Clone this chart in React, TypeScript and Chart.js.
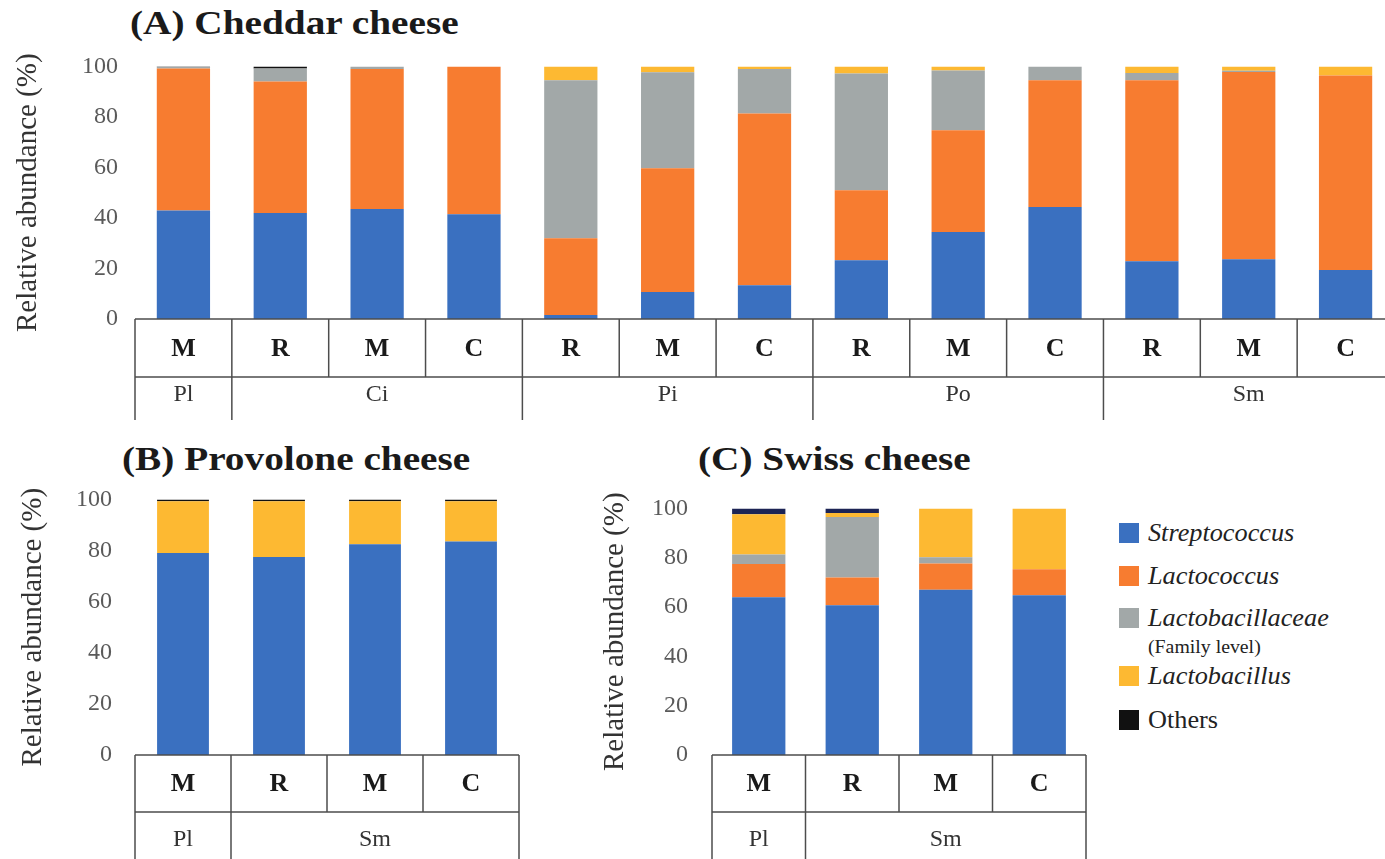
import React, { useEffect, useRef } from "react";
import { Chart, registerables } from "chart.js";
Chart.register(...registerables);

// ---------- data ----------
const seriesNames = ["Streptococcus", "Lactococcus", "Lactobacillaceae", "Lactobacillus", "Others"];
const baseColors = ["#3a70c0", "#f77c30", "#a2a8a8", "#fdb932", "#111111"];
const swissColors = ["#3a70c0", "#f77c30", "#a2a8a8", "#fdb932", "#1c2455"];
const yTicks = [0, 20, 40, 60, 80, 100];
const yTitle = "Relative abundance (%)";

// (A) Cheddar
const cheddarCategories = ["M", "R", "M", "C", "R", "M", "C", "R", "M", "C", "R", "M", "C"];
const cheddarGroups = ["Pl", "Ci", "Pi", "Po", "Sm"];
const cheddarGroupSpans = [1, 3, 3, 3, 3];
const cheddarStreptococcus = [43, 42, 43.5, 41.5, 1.6, 10.7, 13.4, 23.3, 34.4, 44.3, 22.9, 23.7, 19.4];
const cheddarLactococcus = [56.2, 52, 55.5, 58.5, 30.4, 49, 68, 27.7, 40.3, 50.2, 71.6, 74.1, 77];
const cheddarLactobacillaceae = [0.6, 5.2, 1, 0, 62.5, 38, 17.6, 46.2, 23.7, 5.5, 2.9, 0.5, 0];
const cheddarLactobacillus = [0, 0, 0, 0, 5.5, 2.3, 1, 2.8, 1.6, 0, 2.6, 1.7, 3.6];
const cheddarOthers = [0.2, 0.8, 0, 0, 0, 0, 0, 0, 0, 0, 0, 0, 0];

// (B) Provolone
const provoloneCategories = ["M", "R", "M", "C"];
const provoloneGroups = ["Pl", "Sm"];
const provoloneGroupSpans = [1, 3];
const provoloneStreptococcus = [79, 77.5, 82.5, 83.5];
const provoloneLactococcus = [0, 0, 0, 0];
const provoloneLactobacillaceae = [0, 0, 0, 0];
const provoloneLactobacillus = [20.3, 21.8, 16.8, 15.8];
const provoloneOthers = [0.7, 0.7, 0.7, 0.7];

// (C) Swiss
const swissCategories = ["M", "R", "M", "C"];
const swissGroups = ["Pl", "Sm"];
const swissGroupSpans = [1, 3];
const swissStreptococcus = [64, 60.7, 67, 64.8];
const swissLactococcus = [13.5, 11.3, 10.7, 10.5];
const swissLactobacillaceae = [3.8, 24.5, 2.5, 0];
const swissLactobacillus = [16.3, 1.6, 19.8, 24.7];
const swissOthers = [2.4, 1.9, 0, 0];

const SERIF = '"Liberation Serif", "Times New Roman", serif';
const TICK_SIZE = 24;
const TICK_HALF = (TICK_SIZE * 1.2) / 2;

type PanelProps = {
  left: number; plotTop: number; bottom: number; width: number;
  categories: string[]; groups: string[]; spans: number[];
  series: number[][]; colors: string[];
  yWidth: number; padRight: number; xHeight: number;
  row1H: number; row2Off: number; tickPad: number; titlePad: number; barPct: number;
};

function Panel(p: PanelProps) {
  const ref = useRef<HTMLCanvasElement>(null);
  const top = Math.round(p.plotTop - TICK_HALF - p.tickPad);
  const height = p.bottom - top;
  useEffect(() => {
    const tablePlugin = {
      id: "tablePlugin",
      afterDraw(chart: any) {
        const ctx = chart.ctx;
        const area = chart.chartArea;
        const xs = chart.scales.x;
        const n = p.categories.length;
        const cw = (area.right - area.left) / n;
        const t = area.bottom;
        const mid = t + p.row1H;
        const bot = chart.height;
        ctx.save();
        ctx.strokeStyle = "#4d4d4d";
        ctx.lineWidth = 1.5;
        const line = (x1: number, y1: number, x2: number, y2: number) => {
          ctx.beginPath(); ctx.moveTo(x1, y1); ctx.lineTo(x2, y2); ctx.stroke();
        };
        line(area.left, t, area.right, t);
        line(area.left, mid, area.right, mid);
        for (let i = 0; i <= n; i++) {
          const xb = area.left + i * cw;
          line(xb, t, xb, mid);
        }
        let acc = 0;
        const bounds = [0];
        p.spans.forEach((s) => { acc += s; bounds.push(acc); });
        bounds.forEach((b) => {
          const xb = area.left + b * cw;
          line(xb, mid, xb, bot);
        });
        ctx.fillStyle = "#1a1a1a";
        ctx.textAlign = "center";
        ctx.textBaseline = "middle";
        ctx.font = `bold 26px ${SERIF}`;
        p.categories.forEach((c, i) => {
          ctx.fillText(c, xs.getPixelForValue(i), (t + mid) / 2 + 1);
        });
        ctx.fillStyle = "#333333";
        ctx.font = `24px ${SERIF}`;
        p.groups.forEach((g, i) => {
          const cx = area.left + ((bounds[i] + bounds[i + 1]) / 2) * cw;
          ctx.fillText(g, cx, mid + p.row2Off);
        });
        ctx.restore();
      },
    };
    const datasets = p.series.map((data, i) => ({
      label: seriesNames[i],
      data,
      backgroundColor: p.colors[i],
      borderWidth: 0,
      barPercentage: p.barPct,
      categoryPercentage: 1,
      stack: "s",
    }));
    const chart = new Chart(ref.current as HTMLCanvasElement, {
      type: "bar",
      data: { labels: p.categories, datasets },
      options: {
        animation: false,
        responsive: false,
        maintainAspectRatio: false,
        layout: { padding: { left: 0, right: p.padRight, top: 0, bottom: 0 } },
        plugins: { legend: { display: false }, tooltip: { enabled: false } },
        scales: {
          x: {
            stacked: true,
            grid: { display: false, drawTicks: false },
            border: { display: false },
            ticks: { display: false },
            afterFit: (s: any) => { s.height = p.xHeight; },
          },
          y: {
            stacked: true,
            min: 0,
            max: 100,
            grid: { display: false, drawTicks: false },
            border: { display: false },
            afterBuildTicks: (s: any) => { s.ticks = yTicks.map((v) => ({ value: v })); },
            ticks: { padding: p.tickPad, color: "#5a5a5a", font: { family: SERIF, size: TICK_SIZE } },
            title: {
              display: true,
              text: yTitle,
              color: "#333333",
              font: { family: SERIF, size: 29 },
              padding: { top: p.titlePad, bottom: 0 },
            },
            afterFit: (s: any) => { s.width = p.yWidth; },
          },
        },
      } as any,
      plugins: [tablePlugin],
    });
    return () => chart.destroy();
  }, []);
  return (
    <canvas
      ref={ref}
      width={p.width}
      height={height}
      style={{ position: "absolute", left: p.left, top, width: p.width, height }}
    />
  );
}

const titleStyle = (left: number, top: number): React.CSSProperties => ({
  position: "absolute",
  left,
  top,
  fontFamily: SERIF,
  fontWeight: "bold",
  fontSize: 34,
  lineHeight: "34px",
  color: "#1a1a1a",
  whiteSpace: "nowrap",
  transform: "scaleX(1.155)",
  transformOrigin: "left center",
});

const legendItems = [
  { name: "Streptococcus", italic: true, cy: 533 },
  { name: "Lactococcus", italic: true, cy: 576 },
  { name: "Lactobacillaceae", italic: true, cy: 618 },
  { name: "Lactobacillus", italic: true, cy: 676 },
  { name: "Others", italic: false, cy: 720 },
];

export default function App() {
  return (
    <div
      style={{
        position: "fixed", left: 0, top: 0, width: 1385, height: 859,
        overflow: "hidden", background: "#ffffff",
      }}
    >
      <div style={titleStyle(130, 6)}>(A) Cheddar cheese</div>
      <div style={titleStyle(122, 442)}>(B) Provolone cheese</div>
      <div style={titleStyle(698, 442)}>(C) Swiss cheese</div>

      <Panel
        left={0} plotTop={66} bottom={420} width={1394}
        categories={cheddarCategories} groups={cheddarGroups} spans={cheddarGroupSpans}
        series={[cheddarStreptococcus, cheddarLactococcus, cheddarLactobacillaceae, cheddarLactobacillus, cheddarOthers]}
        colors={baseColors}
        yWidth={135} padRight={0} xHeight={101} row1H={58} row2Off={18}
        tickPad={17} titlePad={11} barPct={0.55}
      />
      <Panel
        left={0} plotTop={499} bottom={859} width={523}
        categories={provoloneCategories} groups={provoloneGroups} spans={provoloneGroupSpans}
        series={[provoloneStreptococcus, provoloneLactococcus, provoloneLactobacillaceae, provoloneLactobacillus, provoloneOthers]}
        colors={baseColors}
        yWidth={135} padRight={4} xHeight={104} row1H={57} row2Off={28}
        tickPad={23} titlePad={16} barPct={0.54}
      />
      <Panel
        left={580} plotTop={508} bottom={859} width={510}
        categories={swissCategories} groups={swissGroups} spans={swissGroupSpans}
        series={[swissStreptococcus, swissLactococcus, swissLactobacillaceae, swissLactobacillus, swissOthers]}
        colors={swissColors}
        yWidth={132} padRight={4} xHeight={104} row1H={57} row2Off={28}
        tickPad={24} titlePad={18} barPct={0.57}
      />

      {legendItems.map((it, i) => (
        <React.Fragment key={it.name}>
          <div
            style={{
              position: "absolute", left: 1119, top: it.cy - 10, width: 20, height: 20,
              background: baseColors[i],
            }}
          />
          <div
            style={{
              position: "absolute", left: 1148, top: it.cy - 15, height: 30, lineHeight: "30px",
              fontFamily: SERIF, fontSize: 25, fontStyle: it.italic ? "italic" : "normal",
              color: "#222222", whiteSpace: "nowrap",
              transform: "scaleX(1.05)", transformOrigin: "left center",
            }}
          >
            {it.name}
          </div>
        </React.Fragment>
      ))}
      <div
        style={{
          position: "absolute", left: 1148, top: 636, lineHeight: "22px",
          fontFamily: SERIF, fontSize: 18, color: "#222222", whiteSpace: "nowrap",
          transform: "scaleX(1.1)", transformOrigin: "left center",
        }}
      >
        (Family level)
      </div>
    </div>
  );
}
